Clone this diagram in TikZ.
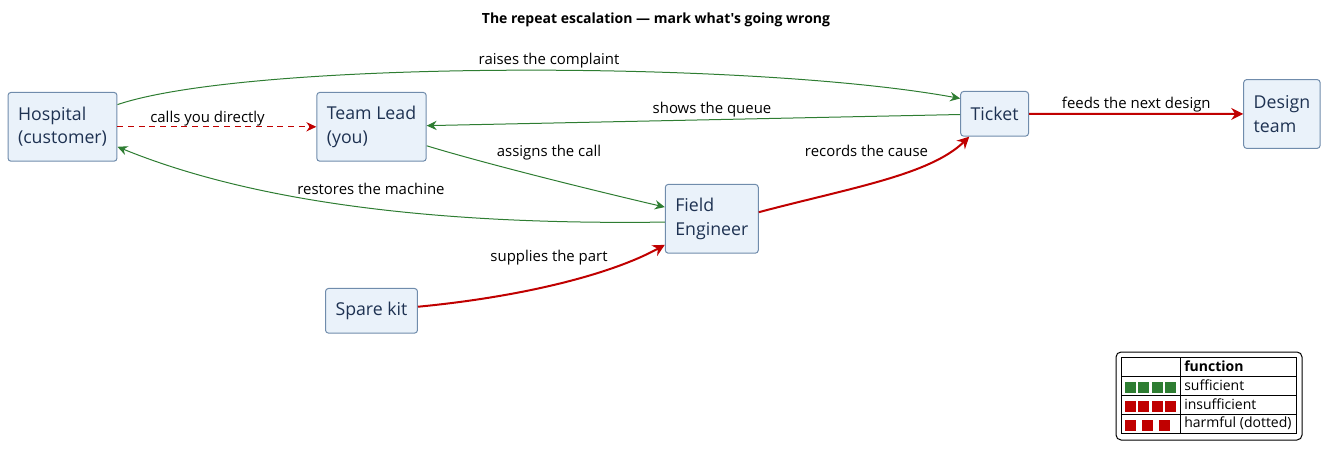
\documentclass[tikz,border=0pt]{standalone}
\usepackage{fontspec}
\setmainfont{Open Sans}[Ligatures=TeXOff]
\usetikzlibrary{arrows.meta}
\definecolor{boxfill}{RGB}{234,242,250}
\definecolor{boxline}{RGB}{112,140,172}
\definecolor{boxtext}{RGB}{30,50,82}
\definecolor{okgreen}{RGB}{46,125,50}
\definecolor{badred}{RGB}{192,0,0}
\tikzset{
    actor/.style =  {rectangle,
                    rounded corners=2.25pt,
                    fill=boxfill,
                    draw=boxline,
                    text=boxtext,
                    line width=0.75pt,
                    align=left,
                    inner xsep=7.5pt,
                    font=\fontsize{13.3}{17.5}\selectfont},
    twoline/.style = {minimum height=51.6pt},
    oneline/.style = {minimum height=33.5pt},
    lbl/.style =    {anchor=base,
                    inner sep=0pt,
                    text=black,
                    font=\fontsize{11.2}{13}\selectfont},
    key/.style =    {anchor=base west,
                    inner sep=0pt,
                    text=black,
                    font=\fontsize{10.5}{12}\selectfont},
    ok/.style =     {draw=okgreen,
                    line width=0.75pt},
    bad/.style =    {draw=badred,
                    line width=1.5pt,
                    >={Stealth[length=9pt,width=9pt,inset=3pt]}},
    harm/.style =   {draw=badred,
                    line width=0.75pt,
                    dash pattern=on 4.5pt off 3.5pt},
    -,
    >={Stealth[length=7.5pt,width=7pt,inset=2.5pt]}}

\begin{document}
\begin{tikzpicture}[x=0.75pt,y=-0.75pt]
    \useasboundingbox (0,0) rectangle (1326,459);
    \node [anchor=base,inner sep=0pt,font=\bfseries\fontsize{10.5}{12}\selectfont] (title) at (656,24) {The repeat escalation — mark what's going wrong};

    \node[actor,twoline]    (hosp)   at (62.5,126.8)   {Hospital\\(customer)};
    \node[actor,twoline]    (lead)   at (371.5,126.8)  {Team Lead\\(you)};
    \node[actor,oneline]    (ticket) at (994.6,113.8)  {Ticket};
    \node[actor,twoline]    (design) at (1281.9,114)   {Design\\team};
    \node[actor,twoline]    (field)  at (711.8,218.8)  {Field\\Engineer};
    \node[actor,oneline]    (spare)  at (371.5,310.8)  {Spare kit};

    % sufficient
    \draw [ok,->]   (hosp.22) .. controls (250,60) and (750,60) .. (ticket.156);
    \draw [ok,->]   (ticket) -- (lead);
    \draw [ok,->]   (lead.-19) .. controls (490,165) and (600,192) .. (field.166);
    \draw [ok,->]   (field.184) .. controls (450,225) and (260,205) .. (hosp.-20);
    % insufficient
    \draw [bad,->]  (field.8) .. controls (850,188) and (930,175) .. (ticket.222);
    \draw [bad,->]  (spare.5) .. controls (520,297) and (610,275) .. (field.209);
    \draw [bad,->]  (ticket) -- (design);
    % harmful
    \draw [harm,->] (hosp) -- (lead);

    \node[lbl] (raise)   at (549,65)      {raises the complaint};
    \node[lbl] (calls)   at (207.5,122.3) {calls you directly};
    \node[lbl] (queue)   at (712,114)     {shows the queue};
    \node[lbl] (assign)  at (549,157)     {assigns the call};
    \node[lbl] (restore) at (371,195)     {restores the machine};
    \node[lbl] (record)  at (866.5,156.7) {records the cause};
    \node[lbl] (feed)    at (1136.3,109)  {feeds the next design};
    \node[lbl] (supply)  at (549,261.7)   {supplies the part};

    % legend
    \draw [rounded corners=3.75pt,line width=0.75pt] (1116,352) rectangle (1302,440);
    \draw [line width=0.6pt] (1121,357) rectangle (1296,433);
    \draw [line width=0.6pt] (1180,357) -- (1180,433);
    \foreach \y in {376,395,414}
        \draw [line width=0.6pt] (1121,\y) -- (1296,\y);
    \foreach \i in {0,...,3}
    {
        \fill [okgreen] (1125+13.4*\i,381.7) rectangle +(10.8,11);
        \fill [badred]  (1125+13.4*\i,400.7) rectangle +(10.8,11);
    }
    \foreach \i in {0,...,2}
        \fill [badred]  (1125+17.2*\i,419.5) rectangle +(10.8,11);
    \node[key,font=\bfseries\fontsize{10.5}{12}\selectfont] (kfun)  at (1184,371.6) {function};
    \node[key] (kok)   at (1184,390.6) {sufficient};
    \node[key] (kbad)  at (1184,409.4) {insufficient};
    \node[key] (kharm) at (1184,427.4) {harmful (dotted)};
\end{tikzpicture}
\end{document}
